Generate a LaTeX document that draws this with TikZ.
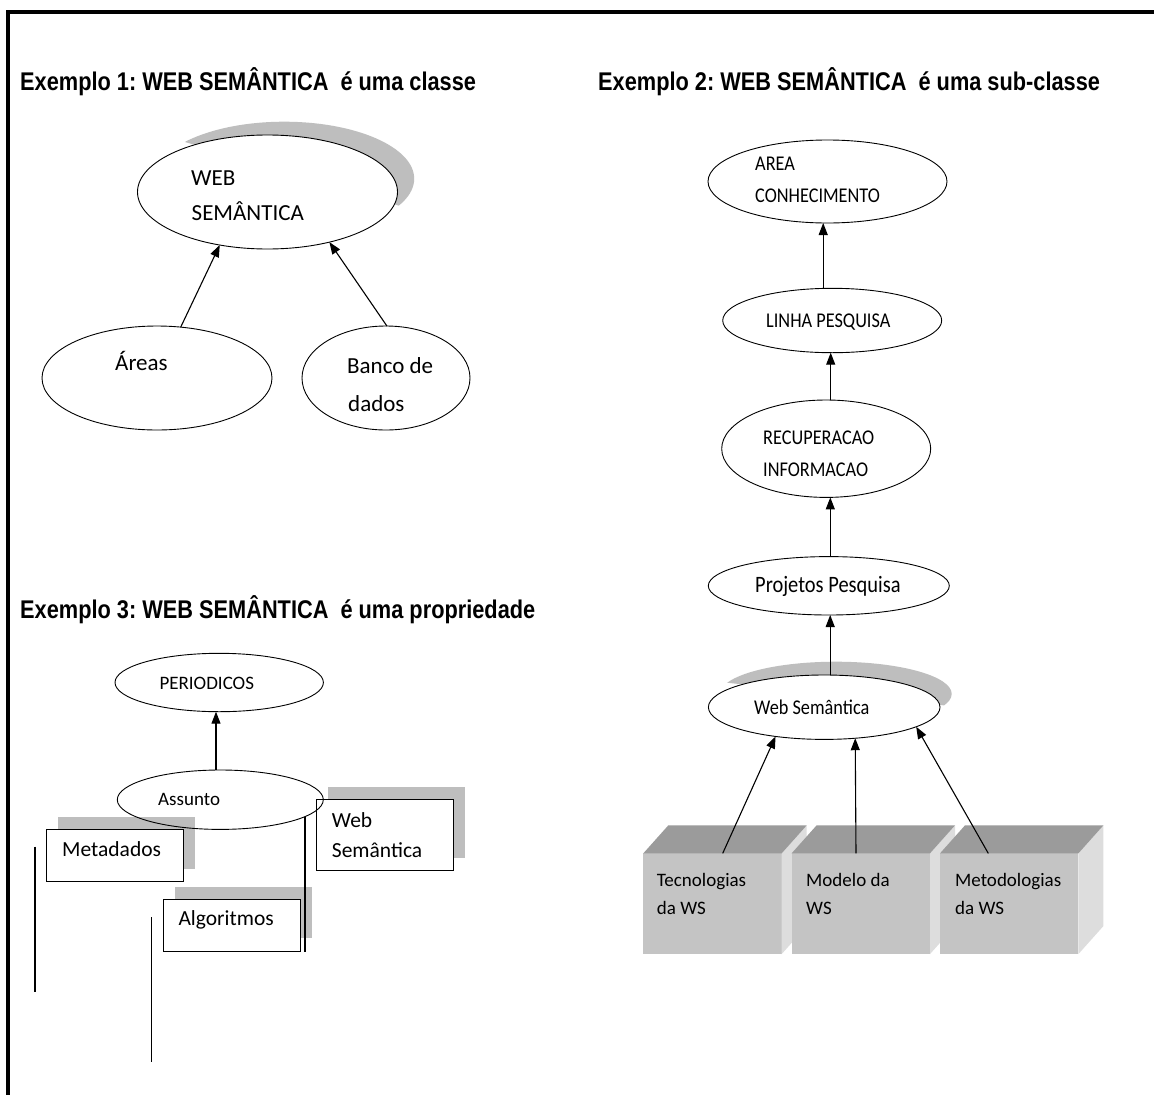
\documentclass[tikz,border=0pt]{standalone}
\usepackage{fontspec}
\usetikzlibrary{shapes.geometric,arrows.meta,calc}
\newfontfamily\carl{Carlito}
\newfontfamily\carlc[FakeStretch=0.87]{Carlito}
\newfontfamily\ttlfont[FakeStretch=0.85]{Liberation Sans}
\definecolor{shadowgray}{RGB}{190,190,190}
\definecolor{topgray}{RGB}{155,155,155}
\definecolor{frontgray}{RGB}{196,196,196}
\definecolor{sidegray}{RGB}{221,221,221}
\begin{document}
\begin{tikzpicture}[x=1pt,y=-1pt,
  ell/.style={ellipse, draw, line width=0.9pt, inner sep=0pt, outer sep=0pt},
  shad/.style={ellipse, fill=shadowgray, draw=none, inner sep=0pt, outer sep=0pt},
  shadrect/.style={rectangle, fill=shadowgray, draw=none, inner sep=0pt, outer sep=0pt, minimum width=137.3pt},
  wbox/.style={rectangle, fill=white, draw, line width=1pt, inner sep=0pt, outer sep=0pt, minimum width=137.3pt},
  front/.style={rectangle, fill=frontgray, draw=none, inner sep=0pt, outer sep=0pt, minimum width=138.4pt, minimum height=100.7pt},
  arr/.style={-{Triangle[length=12pt,width=9pt]}, line width=1.1pt},
  plain/.style={line width=1.1pt},
  title/.style={font=\ttlfont\bfseries\frenchspacing\fontsize{25.6}{30}\selectfont, inner sep=0pt, anchor=base west},
  ta/.style={font=\carl\fontsize{23}{28}\selectfont, inner sep=0pt, anchor=base west},
  tb/.style={font=\carlc\fontsize{21}{25}\selectfont, inner sep=0pt, anchor=base west},
  tbb/.style={font=\carlc\fontsize{23.5}{28}\selectfont, inner sep=0pt, anchor=base west},
  tbox/.style={font=\carl\fontsize{19}{23}\selectfont, inner sep=0pt, anchor=base west},
  tc/.style={font=\carl\fontsize{21.5}{26}\selectfont, inner sep=0pt, anchor=base west},
  td/.style={font=\carl\fontsize{19}{23}\selectfont, inner sep=0pt, anchor=base west}
]
\useasboundingbox (0,0) rectangle (1154,1095);
\fill[white] (0,0) rectangle (1154,1095);
% frame (top and left only)
\draw[line width=4pt] (8,1100) -- (8,12) -- (1160,12);

% titles
\node[title] (tit1) at (20,90) {Exemplo 1: WEB SEMÂNTICA \ é uma classe};
\node[title] (tit2) at (598,90) {Exemplo 2: WEB SEMÂNTICA \ é uma sub-classe};
\node[title] (tit3) at (20,618) {Exemplo 3: WEB SEMÂNTICA \ é uma propriedade};

% ---------- Example 1 ----------
\begin{scope}
\clip (180,60) -- (440,60) -- (440,212) -- (400,206) -- (185,142) -- cycle;
\node[shad, minimum width=260pt, minimum height=114pt] (web1s) at (284.2,178.7) {};
\end{scope}
\node[ell, fill=white, minimum width=260pt, minimum height=114pt] (web1) at (267.5,192) {};
\node[ta] (web1a) at (191,185.7) {WEB};
\node[ta] (web1b) at (191.5,220) {SEMÂNTICA};
\node[ell, minimum width=230pt, minimum height=104pt] (areas) at (157,378) {};
\node[ta] (areast) at (115,370) {Áreas};
\node[ell, minimum width=168pt, minimum height=104pt] (banco) at (386,378) {};
\node[ta] (bancoa) at (347,373) {Banco de};
\node[ta] (bancob) at (348,411) {dados};
\draw[arr] (areas.65) -- (web1.228);
\draw[arr] (banco.89) -- (web1.321);

% ---------- Example 2 ----------
\node[ell, minimum width=239pt, minimum height=83pt] (area) at (827.5,181.5) {};
\node[tb] (areaa) at (755,170) {AREA};
\node[tb] (areab) at (755,202.7) {CONHECIMENTO};
\node[ell, minimum width=219pt, minimum height=64.4pt] (linha) at (832.2,320.5) {};
\node[tb] (linhat) at (766,327) {LINHA PESQUISA};
\node[ell, minimum width=209pt, minimum height=97.4pt] (recup) at (826.2,448.7) {};
\node[tb] (recupa) at (763,444.5) {RECUPERACAO};
\node[tb] (recupb) at (763,476.7) {INFORMACAO};
\node[ell, minimum width=241pt, minimum height=58.4pt] (proj) at (828.8,585.8) {};
\node[tbb] (projt) at (755,592.7) {Projetos Pesquisa};
\begin{scope}
\clip (715,640) -- (980,640) -- (980,706) -- (950,706) -- (720,682) -- cycle;
\node[shad, minimum width=231.6pt, minimum height=64.4pt] (wsems) at (835.9,693.9) {};
\end{scope}
\node[ell, fill=white, minimum width=231.6pt, minimum height=64.4pt] (wsem) at (824.2,707.2) {};
\node[tb] (wsemt) at (754,714) {Web Semântica};

\draw[arr] ($(linha.north)+(-9,0)$) -- ($(linha.north |- area.south)+(-9,0)$);
\draw[arr] ($(recup.north)+(4.5,0)$) -- ($(recup.north |- linha.south)+(4.5,0)$);
\draw[arr] ($(proj.north)+(1.5,0)$) -- ($(proj.north |- recup.south)+(1.5,0)$);
\draw[arr] ($(wsem.north)+(6,0)$) -- ($(wsem.north |- proj.south)+(6,0)$);

% cubes
\node[front] (tec) at (712.5,903.7) {};
\fill[sidegray] (tec.north east) -- ++(25,-28) -- ++(0,100.7) -- (tec.south east) -- cycle;
\fill[topgray] (tec.north west) -- ++(25,-28) -- ($(tec.north east)+(25,-28)$) -- (tec.north east) -- cycle;
\node[front] (mod) at (860.8,903.7) {};
\fill[sidegray] (mod.north east) -- ++(25,-28) -- ++(0,100.7) -- (mod.south east) -- cycle;
\fill[topgray] (mod.north west) -- ++(25,-28) -- ($(mod.north east)+(25,-28)$) -- (mod.north east) -- cycle;
\node[front] (met) at (1009.2,903.7) {};
\fill[sidegray] (met.north east) -- ++(25,-28) -- ++(0,100.7) -- (met.south east) -- cycle;
\fill[topgray] (met.north west) -- ++(25,-28) -- ($(met.north east)+(25,-28)$) -- (met.north east) -- cycle;

\node[tbox] (teca) at (656.7,886) {Tecnologias};
\node[tbox] (tecb) at (656.7,914) {da WS};
\node[tbox] (moda) at (806,886) {Modelo da};
\node[tbox] (modb) at (806,914) {WS};
\node[tbox] (meta) at (955,886) {Metodologias};
\node[tbox] (metb) at (955,914) {da WS};

\draw[arr] ($(tec.north)+(10.2,0)$) -- (wsem.211);
\draw[arr] ($(mod.north)+(-4.8,0)$) -- (wsem.315.7);
\draw[arr] ($(met.north)+(-20.9,0)$) -- (wsem.348.7);

% ---------- Example 3 ----------
\node[ell, minimum width=208.4pt, minimum height=58.4pt] (per) at (219.2,682.5) {};
\node[td] (pert) at (159.3,689.3) {PERIODICOS};

\node[shadrect, minimum height=52pt] (metas) at (126.7,843.3) {};
\node[shadrect, minimum height=71pt] (wsbs) at (396.7,822.8) {};
\node[shadrect, minimum height=51pt] (algs) at (243.3,912.8) {};

\node[wbox, minimum height=51.7pt] (metad) at (115.3,855.8) {};
\node[tc] (metadt) at (62,856) {Metadados};
\node[wbox, minimum height=70.7pt] (wsb) at (385.3,835.3) {};
\node[tc] (wsba) at (331.7,827.3) {Web};
\node[tc] (wsbb) at (331.7,857.3) {Semântica};
\node[wbox, minimum height=51.7pt] (alg) at (232,925.8) {};
\node[tc] (algt) at (178.3,925.7) {Algoritmos};

\node[ell, minimum width=206pt, minimum height=59.4pt] (ass) at (220.3,799.7) {};
\node[td] (asst) at (158,805) {Assunto};
\draw[arr] ($(ass.north)+(-4.3,0)$) -- ($(ass.north |- per.south)+(-4.3,0)$);

\coordinate (l1a) at (35,846.7);
\coordinate (l1b) at (35,991.7);
\coordinate (l2a) at (151.7,917.3);
\coordinate (l2b) at (151.7,1061.7);
\coordinate (l3a) at (305,817);
\coordinate (l3b) at (305,951.7);
\draw[plain] (l1a) -- (l1b);
\draw[plain] (l2a) -- (l2b);
\draw[plain] (l3a) -- (l3b);
\end{tikzpicture}
\end{document}
